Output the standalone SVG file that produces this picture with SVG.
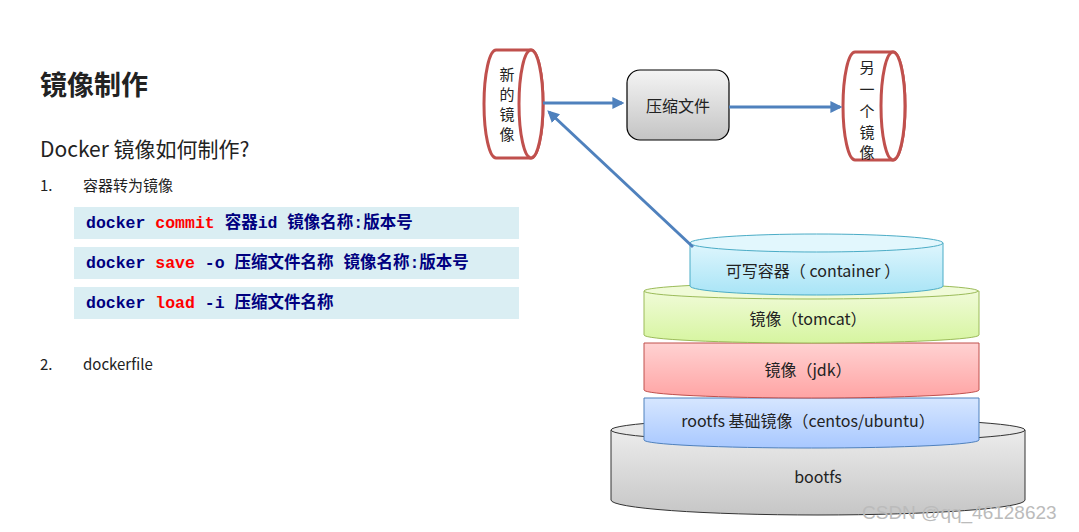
<svg xmlns="http://www.w3.org/2000/svg" width="1079" height="532" viewBox="0 0 1079 532">
<style>
text{font-family:"Noto Sans CJK SC","Noto Sans",sans-serif;fill:#222}
.code{font-family:"Liberation Mono","Noto Sans CJK SC",monospace;font-weight:bold;font-size:16.5px;fill:#000080}
.kw{fill:#ff0000}
.cb{fill:#daeef3}
.cyl{fill:#fff;stroke:#c0504d;stroke-width:3}
.ar{stroke:#4f81bd;stroke-width:3;fill:none;marker-end:url(#ah)}
.lt{font-size:16px;text-anchor:middle}
.vt{font-size:15px;text-anchor:middle}
</style>
<defs>
<marker id="ah" viewBox="0 0 10 10" refX="8" refY="5" markerWidth="4" markerHeight="4" orient="auto"><path d="M0,0L10,5L0,10z" fill="#4f81bd"/></marker>
<linearGradient id="gb" x1="0" y1="0" x2="0" y2="1"><stop offset="0" stop-color="#f4f4f4"/><stop offset="1" stop-color="#c4c4c4"/></linearGradient>
<linearGradient id="gc" x1="0" y1="0" x2="0" y2="1"><stop offset="0" stop-color="#dff6fd"/><stop offset="1" stop-color="#a8e4f6"/></linearGradient>
<linearGradient id="gg" x1="0" y1="0" x2="0" y2="1"><stop offset="0" stop-color="#f0fbd8"/><stop offset="1" stop-color="#d6f5a0"/></linearGradient>
<linearGradient id="gr" x1="0" y1="0" x2="0" y2="1"><stop offset="0" stop-color="#ffd2d2"/><stop offset="1" stop-color="#ffa4a4"/></linearGradient>
<linearGradient id="gu" x1="0" y1="0" x2="0" y2="1"><stop offset="0" stop-color="#d6e6ff"/><stop offset="1" stop-color="#a8c8ff"/></linearGradient>
<linearGradient id="gs" x1="0" y1="0" x2="0" y2="1"><stop offset="0" stop-color="#ececec"/><stop offset="1" stop-color="#c6c6c6"/></linearGradient>
</defs>
<g id="text-left">
<text x="40" y="95" font-size="27" font-weight="bold" fill="#333">镜像制作</text>
<text x="40" y="157" font-size="21">Docker 镜像如何制作?</text>
<text x="40" y="191" font-size="15">1.</text><text x="83" y="191" font-size="15">容器转为镜像</text>
<rect class="cb" x="74" y="207" width="445" height="32"/>
<rect class="cb" x="74" y="247" width="445" height="32"/>
<rect class="cb" x="74" y="287" width="445" height="32"/>
<text class="code" x="86" y="228">docker <tspan class="kw">commit</tspan> 容器id 镜像名称:版本号</text>
<text class="code" x="86" y="268">docker <tspan class="kw">save</tspan> -o 压缩文件名称 镜像名称:版本号</text>
<text class="code" x="86" y="308">docker <tspan class="kw">load</tspan> -i 压缩文件名称</text>
<text x="40" y="370" font-size="15">2.</text><text x="83" y="370" font-size="15">dockerfile</text>
</g>
<g id="new-image">
<path class="cyl" d="M496,50L531,50A12,54 0 0 1 531,158L496,158A12,54 0 0 1 496,50Z"/>
<ellipse class="cyl" cx="531" cy="104" rx="12" ry="54"/>
<text class="vt" x="507" y="80">新</text><text class="vt" x="507" y="100">的</text><text class="vt" x="507" y="120">镜</text><text class="vt" x="507" y="140">像</text>
</g>
<g id="zip">
<rect x="627" y="70" width="102" height="70" rx="13" fill="url(#gb)" stroke="#000" stroke-width="1.2"/>
<text class="lt" x="678" y="112">压缩文件</text>
</g>
<g id="other-image">
<path class="cyl" d="M855,52L893,52A12,54 0 0 1 893,160L855,160A12,54 0 0 1 855,52Z"/>
<ellipse class="cyl" cx="893" cy="106" rx="12" ry="54"/>
<text class="vt" x="867" y="73">另</text><text class="vt" x="867" y="95">一</text><text class="vt" x="867" y="117">个</text><text class="vt" x="867" y="138">镜</text><text class="vt" x="867" y="158">像</text>
</g>
<g id="stack">
<g id="bootfs"><path d="M611,430L611,500A207,15 0 0 0 1025,500L1025,430Z" fill="url(#gs)" stroke="#333"/><ellipse cx="818" cy="430" rx="207" ry="12" fill="#e8e8e8" stroke="#333"/><text class="lt" x="818" y="483">bootfs</text></g>
<g id="rootfs"><path d="M644,398L644,440A167,8 0 0 0 979,440L979,398Z" fill="url(#gu)" stroke="#4f81bd"/><text class="lt" x="808" y="427">rootfs 基础镜像（centos/ubuntu）</text></g>
<g id="jdk"><path d="M644,343L644,390A167,8 0 0 0 979,390L979,343Z" fill="url(#gr)" stroke="#c0504d"/><text class="lt" x="808" y="376">镜像（jdk）</text></g>
<g id="tomcat"><path d="M644,291L644,335A167,8 0 0 0 979,335L979,291Z" fill="url(#gg)" stroke="#9bbb59"/><ellipse cx="811" cy="291" rx="167" ry="8" fill="#f0fbd8" stroke="#9bbb59"/><text class="lt" x="808" y="325">镜像（tomcat）</text></g>
<g id="container"><path d="M690,243L690,286A126.5,9 0 0 0 943,286L943,243Z" fill="url(#gc)" stroke="#4bacc6"/><ellipse cx="816.5" cy="243" rx="126.5" ry="9" fill="#e2f7fd" stroke="#4bacc6"/><text class="lt" x="813" y="277">可写容器（ container ）</text></g>
</g>
<g id="connectors">
<line class="ar" x1="543" y1="103" x2="622" y2="103"/>
<line class="ar" x1="729" y1="107" x2="840" y2="107"/>
<line class="ar" x1="693" y1="247" x2="549" y2="112"/>
</g>
<text x="862" y="519" font-size="19" style="fill:#bbb;font-family:'Liberation Sans',sans-serif">CSDN @qq_46128623</text>
</svg>
